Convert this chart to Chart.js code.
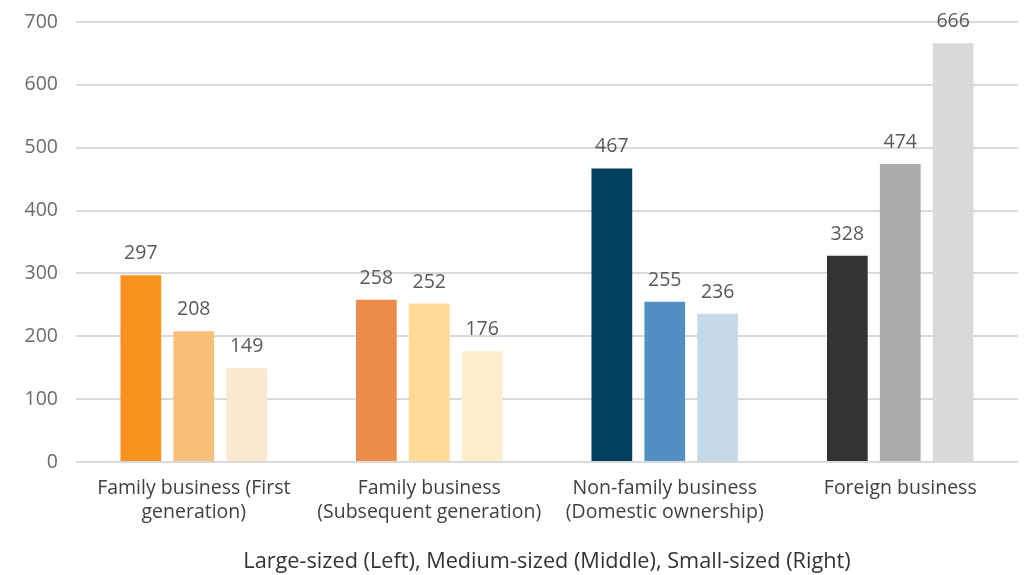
<!DOCTYPE html>
<html>
<head>
<meta charset="utf-8">
<script src="https://cdn.jsdelivr.net/npm/chart.js@4/dist/chart.umd.min.js"></script>
<style>
  html, body { margin: 0; padding: 0; background: #ffffff; }
  #wrap { width: 1025px; height: 575px; }
</style>
</head>
<body>
<div id="wrap"><canvas id="chart" width="1025" height="575"></canvas></div>
<script>
// Business categories along the x axis (multi-line labels)
const categories = [
  ['Family business (First', 'generation)'],
  ['Family business', '(Subsequent generation)'],
  ['Non-family business', '(Domestic ownership)'],
  ['Foreign business']
];

// Values by firm size, one entry per category
const largeSized  = [297, 258, 467, 328];
const mediumSized = [208, 252, 255, 474];
const smallSized  = [149, 176, 236, 666];

// Y axis ticks
const yTicks = [0, 100, 200, 300, 400, 500, 600, 700];

// Bar colours per category, for each size group
const largeColors  = ['#F7931E', '#EB8C4B', '#03405D', '#333333'];
const mediumColors = ['#F9BF7A', '#FFDA96', '#5290C3', '#ABABAB'];
const smallColors  = ['#FBE8D1', '#FFEDCC', '#C5D9E9', '#D9D9D9'];

const axisTitle = 'Large-sized (Left), Medium-sized (Middle), Small-sized (Right)';

const FONT = '"Open Sans", "Noto Sans", sans-serif';

// Writes each bar's value just above it
const valueLabels = {
  id: 'valueLabels',
  afterDatasetsDraw(chart) {
    const ctx = chart.ctx;
    ctx.save();
    ctx.font = '19.5px ' + FONT;
    ctx.fillStyle = '#595959';
    ctx.textAlign = 'center';
    ctx.textBaseline = 'alphabetic';
    chart.data.datasets.forEach((ds, di) => {
      const meta = chart.getDatasetMeta(di);
      meta.data.forEach((bar, i) => {
        ctx.fillText(String(ds.data[i]), bar.x, bar.y - 16);
      });
    });
    ctx.restore();
  }
};

new Chart(document.getElementById('chart'), {
  type: 'bar',
  data: {
    labels: categories,
    datasets: [
      { label: 'Large-sized',  data: largeSized,  backgroundColor: largeColors },
      { label: 'Medium-sized', data: mediumSized, backgroundColor: mediumColors },
      { label: 'Small-sized',  data: smallSized,  backgroundColor: smallColors }
    ]
  },
  options: {
    responsive: false,
    animation: false,
    devicePixelRatio: 1,
    categoryPercentage: 0.674,
    barPercentage: 0.77,
    layout: { padding: { top: 22, right: 7, left: 0, bottom: 0 } },
    plugins: {
      legend: { display: false },
      tooltip: { enabled: false }
    },
    scales: {
      x: {
        grid: { display: false },
        border: { display: false },
        ticks: {
          color: '#404040',
          font: { family: FONT, size: 19.5, lineHeight: 1.25 },
          padding: 6,
          maxRotation: 0,
          autoSkip: false
        },
        title: {
          display: true,
          text: axisTitle,
          color: '#333333',
          font: { family: FONT, size: 21.7 },
          padding: { top: 16, bottom: 0 }
        },
        afterFit(scale) { scale.height = 113; }
      },
      y: {
        min: 0,
        max: 700,
        afterBuildTicks(scale) { scale.ticks = yTicks.map(v => ({ value: v })); },
        grid: { color: '#d9d9d9', lineWidth: 2, drawTicks: false },
        border: { display: false },
        ticks: {
          color: '#6b6b6b',
          font: { family: FONT, size: 19.5 },
          padding: 18
        },
        afterFit(scale) {
          scale.width = 76;
          scale.paddingTop = 0;
          scale.paddingBottom = 0;
        }
      }
    }
  },
  plugins: [valueLabels]
});
</script>
</body>
</html>
